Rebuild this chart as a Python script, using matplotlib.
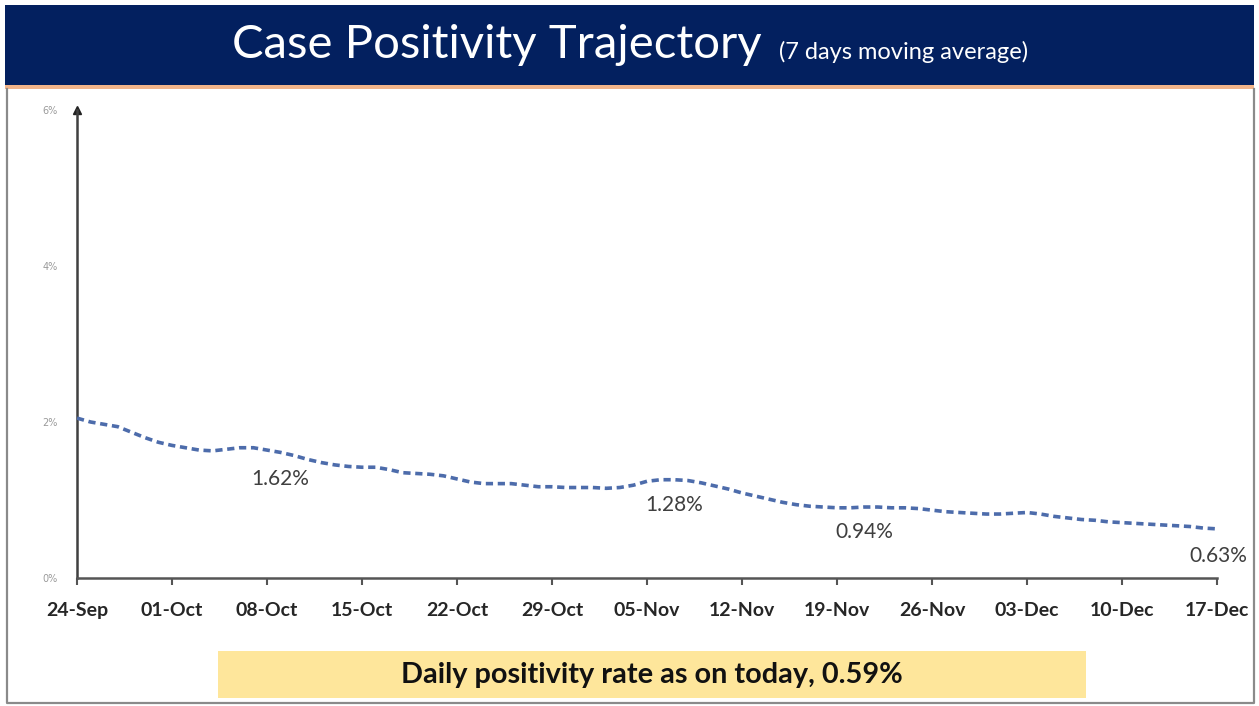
import numpy as np
import pandas as pd
import matplotlib
matplotlib.use("Agg")
import matplotlib.pyplot as plt
import matplotlib.dates as mdates
from matplotlib.patches import Rectangle
from matplotlib.lines import Line2D

# 7-day moving average of case positivity (%), 24-Sep to 17-Dec
dates = pd.date_range("2020-09-24", "2020-12-17", freq="D")
positivity = [
    2.05, 2.00, 1.97, 1.94, 1.87, 1.80, 1.74, 1.70, 1.67, 1.64,
    1.63, 1.65, 1.67, 1.67, 1.64, 1.61, 1.57, 1.52, 1.48, 1.45,
    1.43, 1.42, 1.42, 1.39, 1.35, 1.34, 1.33, 1.31, 1.27, 1.23,
    1.21, 1.21, 1.21, 1.19, 1.17, 1.17, 1.16, 1.16, 1.16, 1.15,
    1.16, 1.19, 1.24, 1.26, 1.26, 1.25, 1.22, 1.18, 1.14, 1.09,
    1.05, 1.01, 0.97, 0.94, 0.92, 0.91, 0.90, 0.90, 0.91, 0.91,
    0.90, 0.90, 0.89, 0.87, 0.85, 0.84, 0.83, 0.82, 0.82, 0.83,
    0.84, 0.82, 0.79, 0.77, 0.75, 0.74, 0.72, 0.71, 0.70, 0.69,
    0.68, 0.67, 0.66, 0.64, 0.63,
]

# labelled points
label_dates = pd.to_datetime(["2020-10-09", "2020-11-07", "2020-11-21", "2020-12-17"])
label_values = [1.62, 1.28, 0.94, 0.63]
label_text = ["1.62%", "1.28%", "0.94%", "0.63%"]

y_ticks = [0, 2, 4, 6]
title = "Case Positivity Trajectory"
subtitle = "(7 days moving average)"
footer = "Daily positivity rate as on today, 0.59%"

W, H = 1259, 706
fig = plt.figure(figsize=(W / 100, H / 100), dpi=100)
fig.patch.set_facecolor("white")


def px_rect(x0, y0, x1, y1, **kw):
    # rectangle given in image pixels (origin top-left)
    r = Rectangle((x0 / W, 1 - y1 / H), (x1 - x0) / W, (y1 - y0) / H,
                  transform=fig.transFigure, **kw)
    fig.add_artist(r)


def px_line(xs, ys, **kw):
    fig.add_artist(Line2D([x / W for x in xs], [1 - y / H for y in ys],
                          transform=fig.transFigure, **kw))


# header band
px_rect(5, 5, 1254, 85, facecolor="#03205f", edgecolor="none")
px_rect(5, 85, 1254, 89, facecolor="#f2b48a", edgecolor="none")
fig.text(232 / W, 1 - 45 / H, title, color="white", fontsize=34,
         family="Lato", va="center", ha="left")
fig.text(779 / W, 1 - 52 / H, subtitle, color="white", fontsize=17,
         family="Lato", va="center", ha="left")

# slide frame
px_line([7, 7, 1254, 1254], [89, 703, 703, 89], color="#8a8a8a", lw=1.6)

# footer box
px_rect(218, 651, 1086, 698, facecolor="#fee69b", edgecolor="none")
fig.text(652 / W, 1 - 675 / H, footer, color="#111111", fontsize=20.8,
         family="Lato", weight="bold", ha="center", va="center")

# chart
ax = fig.add_axes([77 / W, 1 - 578 / H, 1140 / W, 468 / H])
ax.plot(dates, positivity, color="#4d6cab", lw=2.6,
        linestyle=(0, (2.0, 1.3)), dash_capstyle="butt", zorder=3)

for d, v, t in zip(label_dates, label_values, label_text):
    ha = "right" if t == label_text[-1] else "center"
    dx = 30 if ha == "right" else 0
    ax.annotate(t, (d, v), xytext=(dx, -27), textcoords="offset pixels",
                ha=ha, va="center", fontsize=15, color="#3f3f3f", family="Lato")

ax.set_xlim(dates[0], dates[-1])
ax.set_ylim(0, 6)
ax.set_yticks(y_ticks)
ax.set_yticklabels([f"{t}%" for t in y_ticks])
ax.set_xticks(pd.date_range(dates[0], dates[-1], freq="7D"))
ax.xaxis.set_major_formatter(mdates.DateFormatter("%d-%b"))

for s in ["top", "right"]:
    ax.spines[s].set_visible(False)
ax.spines["left"].set_color("#404040")
ax.spines["left"].set_linewidth(1.8)
ax.spines["bottom"].set_color("#555555")
ax.spines["bottom"].set_linewidth(1.8)
ax.plot([0], [1], marker="^", color="#222222", markersize=6,
        transform=ax.transAxes, clip_on=False)

ax.tick_params(axis="y", length=0, pad=14, labelsize=7, labelcolor="#9a9a9a")
ax.tick_params(axis="x", direction="out", length=5, width=1.5, color="#555555",
               pad=12, labelsize=14, labelcolor="#262626")
for lbl in ax.get_xticklabels():
    lbl.set_fontweight("bold")
    lbl.set_family("Lato")

fig.savefig("out.png", dpi=100)
